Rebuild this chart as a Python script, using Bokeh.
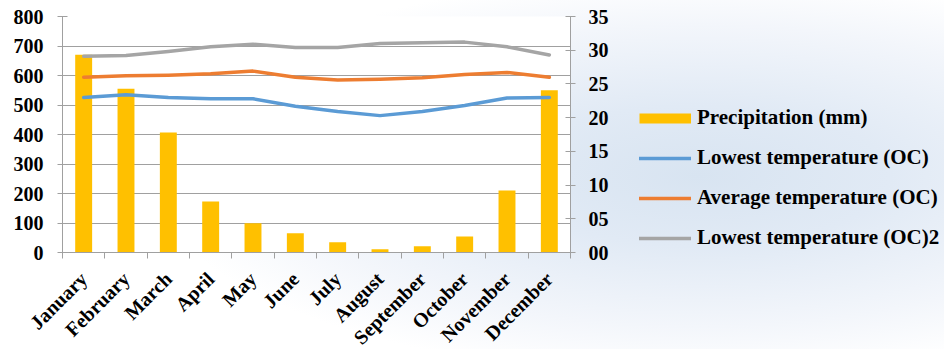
from math import pi
import numpy as np
from bokeh.plotting import figure
from bokeh.layouts import row
from bokeh.models import Range1d, LinearAxis, FixedTicker, Legend, LegendItem, ColumnDataSource
from bokeh.embed import file_html
from bokeh.resources import INLINE

months = ["January", "February", "March", "April", "May", "June", "July",
          "August", "September", "October", "November", "December"]
precipitation = [670, 555, 407, 173, 99, 65, 35, 11, 21, 54, 210, 550]
lowest_temp = [23.0, 23.4, 23.0, 22.8, 22.8, 21.7, 20.9, 20.3, 20.9, 21.8, 22.9, 23.0]
average_temp = [26.0, 26.2, 26.3, 26.5, 26.9, 26.0, 25.6, 25.7, 25.9, 26.4, 26.7, 26.0]
lowest_temp2 = [29.1, 29.2, 29.8, 30.5, 30.9, 30.4, 30.4, 31.0, 31.1, 31.2, 30.5, 29.3]
left_ticks = [0, 100, 200, 300, 400, 500, 600, 700, 800]
right_ticks = [0, 5, 10, 15, 20, 25, 30, 35]
right_labels = ["00", "05", "10", "15", "20", "25", "30", "35"]
series_names = ["Precipitation (mm)", "Lowest temperature (OC)",
                "Average temperature (OC)", "Lowest temperature (OC)2"]
colors = ["#FFC000", "#5B9BD5", "#ED7D31", "#A5A5A5"]

FONT = "Liberation Serif"
xs = np.arange(len(months)) + 0.5
src = ColumnDataSource(dict(x=xs, prec=precipitation, low=lowest_temp,
                            avg=average_temp, low2=lowest_temp2))

MAIN_W = 620
p = figure(frame_width=508, frame_height=236, output_backend="svg", toolbar_location=None,
           x_range=Range1d(0, len(months)), y_range=Range1d(0, 800),
           min_border_left=62, min_border_right=50, min_border_top=16, min_border_bottom=97)
p.extra_y_ranges = {"temp": Range1d(0, 35)}
p.border_fill_color = None
p.background_fill_color = "white"
p.outline_line_color = None

# bars
p.vbar(x="x", top="prec", width=0.4, bottom=0, source=src, fill_color=colors[0], line_color=None)
# lines
for col, c in zip(["low", "avg", "low2"], colors[1:]):
    p.line("x", col, source=src, y_range_name="temp", line_color=c, line_width=3.5,
           line_join="round", line_cap="round")

# grid
p.xgrid.grid_line_color = None
p.ygrid.ticker = FixedTicker(ticks=left_ticks)
p.ygrid.grid_line_color = "#a0a0a0"
p.ygrid.grid_line_width = 1

def style_axis(ax, size="20px"):
    ax.axis_line_color = "#a0a0a0"
    ax.major_tick_line_color = "#a0a0a0"
    ax.minor_tick_line_color = "#a0a0a0"
    ax.major_tick_in = 5
    ax.major_tick_out = 5
    ax.minor_tick_in = 0
    ax.minor_tick_out = 0
    ax.major_label_text_font = FONT
    ax.major_label_text_font_style = "bold"
    ax.major_label_text_font_size = size
    ax.major_label_text_color = "black"

style_axis(p.yaxis[0])
p.yaxis[0].ticker = FixedTicker(ticks=left_ticks)
p.yaxis[0].major_label_standoff = 14

ra = LinearAxis(y_range_name="temp", ticker=FixedTicker(ticks=right_ticks))
style_axis(ra)
ra.major_label_overrides = {t: l for t, l in zip(right_ticks, right_labels)}
ra.major_label_standoff = 13
p.add_layout(ra, "right")

xa = p.xaxis[0]
style_axis(xa, "20px")
xa.ticker = FixedTicker(ticks=list(xs), minor_ticks=list(range(len(months) + 1)))
xa.major_label_overrides = {float(x): m for x, m in zip(xs, months)}
xa.major_tick_line_color = None
xa.major_tick_in = 0
xa.major_tick_out = 6
xa.minor_tick_out = 6
xa.major_label_orientation = pi / 4
xa.major_label_standoff = 17

# legend panel, its frame placed at the same height as the main frame
q = figure(width=944 - MAIN_W, frame_height=236, output_backend="svg", toolbar_location=None,
           x_range=Range1d(0, len(months)), y_range=Range1d(0, 800),
           min_border=0, min_border_top=16)
q.extra_y_ranges = {"temp": Range1d(0, 35)}
q.axis.visible = False
q.grid.visible = False
q.outline_line_color = None
q.border_fill_color = None
q.background_fill_color = None
keys = [q.line("x", "prec", source=src, line_color=colors[0], line_width=10, visible=False)]
for col, c in zip(["low", "avg", "low2"], colors[1:]):
    keys.append(q.line("x", col, source=src, y_range_name="temp", line_color=c,
                       line_width=3.5, line_cap="round", visible=False))

legend = Legend(items=[LegendItem(label=n, renderers=[r]) for n, r in zip(series_names, keys)],
                location=(19, 2))
legend.background_fill_color = None
legend.border_line_color = None
legend.padding = 0
legend.margin = 0
legend.spacing = 15
legend.glyph_width = 52
legend.glyph_height = 20
legend.label_height = 20
legend.label_standoff = 6
legend.label_text_font = FONT
legend.label_text_font_style = "bold"
legend.label_text_font_size = "21px"
legend.label_text_color = "black"
q.add_layout(legend)

layout = row(p, q, spacing=0)
layout.styles = {"background": "radial-gradient(ellipse 58% 56% at 74% 49%, #d8e4f1 0%, #e1eaf5 35%, #f3f6fb 75%, #ffffff 100%)"}

open("out.html", "w").write(file_html(layout, INLINE))
